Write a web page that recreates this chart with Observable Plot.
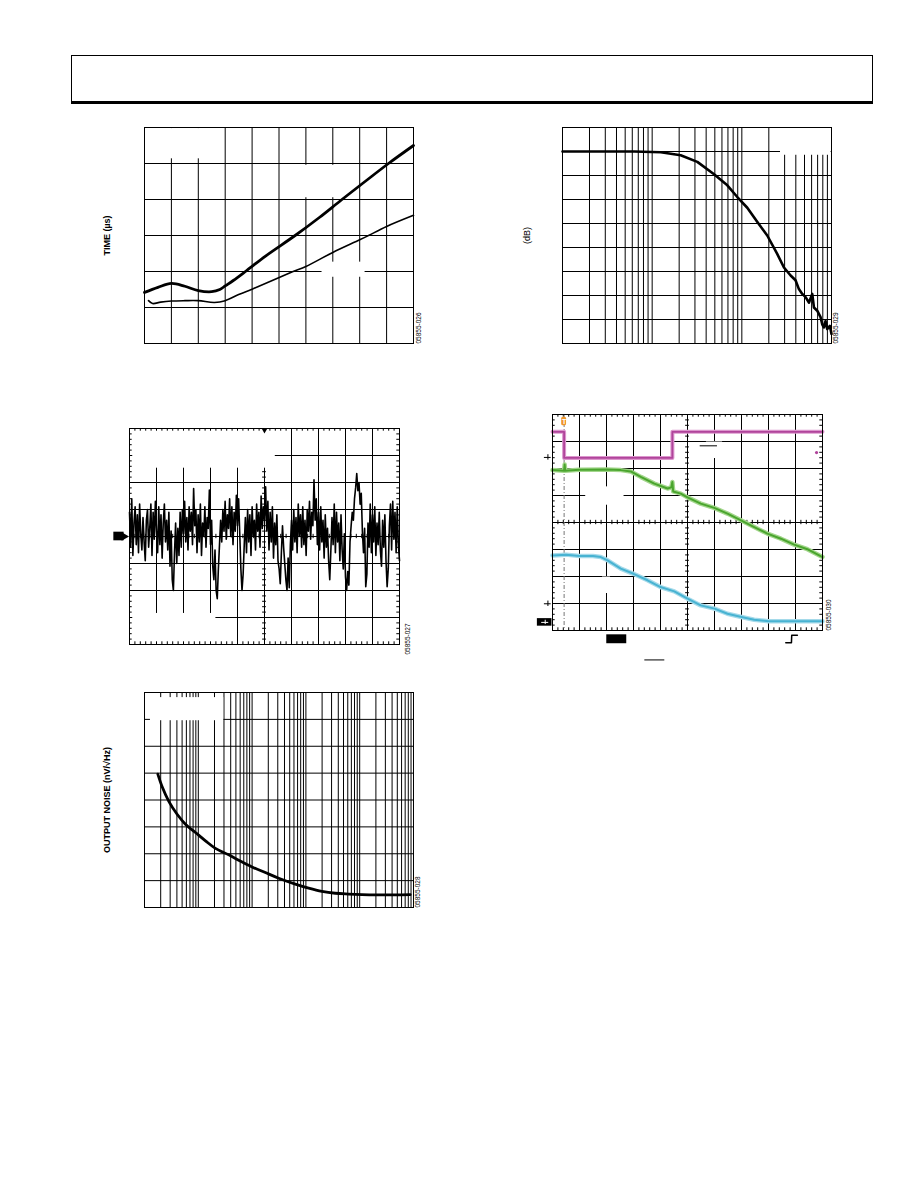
<!DOCTYPE html>
<html><head><meta charset="utf-8">
<script src="https://cdn.jsdelivr.net/npm/d3@7"></script>
<script src="https://cdn.jsdelivr.net/npm/@observablehq/plot@0.6"></script>
<style>
body{margin:0;background:#fff;}
#page{position:relative;width:918px;height:1188px;background:#fff;font-family:Arial,"Liberation Sans",sans-serif;overflow:hidden;}
#header{position:absolute;left:71px;top:55px;width:800px;height:45px;border:1px solid #000;border-bottom:3px solid #000;}
</style></head><body><div id="page"><div id="header"></div></div>
<script>
// ---------- Chart 1: TIME (µs), 10 x 6 divisions ----------
const c1GridX = [0,1,2,3,4,5,6,7,8,9,10];
const c1GridY = [0,1,2,3,4,5,6];
const c1ThickX = [0,0.5,1,1.5,2,2.5,2.8,3,3.3,3.75,4.5,5.6,6.5,7.34,8.2,9.07,10];
const c1ThickY = [1.42,1.56,1.67,1.59,1.47,1.44,1.5,1.6,1.75,2.0,2.43,3.0,3.5,4.0,4.5,5.0,5.5];
const c1ThinX = [0.15,0.3,0.6,1,1.5,2,2.6,3,3.5,4,5.5,6,7,8,8.33,9,10];
const c1ThinY = [1.19,1.11,1.15,1.18,1.19,1.19,1.14,1.19,1.36,1.51,1.99,2.14,2.53,2.88,3.0,3.25,3.56];
const c1Masks = [
  {x1:0.05,x2:2.95,y1:5.13,y2:5.97},
  {x1:5.8,x2:7.4,y1:4.05,y2:4.95},
  {x1:6.6,x2:8.2,y1:1.84,y2:2.26}
];
const c1Label = "TIME (µs)";
const c1Code = "05855-026";

// ---------- Chart 2: (dB) vs log frequency ----------
const c2Decades = [1e3,1e4,1e5];
const c2Mult = [1,2,3,4,5,6,7,8,9];
const c2GridY = [3,0,-3,-6,-9,-12,-15,-18,-21,-24];
const c2Freq = [1000,6280,12500,20800,31900,49000,68900,89000,115000,149000,192000,248000,295000,350000,397000,433000,472000,514000,560000,610000,637000,693000,755000,788000,822000,858000,895000,959000,1000000];
const c2Gain = [0,0,-0.09,-0.47,-1.3,-2.85,-4.23,-5.69,-7.03,-8.82,-10.5,-12.8,-14.5,-15.5,-16.1,-17.2,-17.8,-18.2,-18.9,-17.8,-19.5,-19.9,-20.7,-21.6,-22.0,-21.2,-22.2,-21.8,-22.8];
const c2Masks = [{x1:270000,x2:990000,y1:-0.47,y2:2.95}];
const c2Label = "(dB)";
const c2Code = "05855-029";

// ---------- Chart 3: noise scope, 10 x 8 divisions ----------
const c3GridX = [0,1,2,3,4,5,6,7,8,9,10];
const c3GridY = [-4,-3,-2,-1,0,1,2,3,4];
const c3Noise = [
0.9,-0.4,1.4,-0.7,0.5,1.1,-0.3,0.8,-0.6,1.2,0.1,-0.5,
0.7,-0.2,-0.9,0.6,1.0,-0.4,0.3,1.2,-0.7,0.9,-0.1,1.3,
0.2,-0.6,1.1,-0.3,0.8,-0.8,0.5,1.2,-0.2,0.6,-0.5,0.9,
-1.1,0.2,-1.6,-2.0,-0.6,0.5,-1.0,0.3,-0.7,0.9,-0.4,1.0,
0.1,1.3,-0.2,0.7,-0.5,1.1,0.2,0.9,-0.3,1.78,0.4,1.0,
-0.6,0.8,-0.2,1.2,-0.7,0.5,0.0,1.1,-0.4,0.7,0.3,1.72,
-0.3,0.6,-1.1,-1.6,-0.5,-2.0,-2.3,-1.2,-0.3,0.6,-0.2,1.0,
0.2,1.3,-0.1,0.8,0.3,1.4,0.0,1.1,-0.3,0.9,0.2,1.53,
0.4,1.4,0.1,-1.2,-2.0,-1.4,-0.3,0.7,-0.6,1.0,-0.2,0.8,
-0.7,1.1,0.0,0.6,-0.5,1.2,0.2,0.9,-0.4,1.5,0.3,1.1,
0.6,1.84,0.2,1.3,-0.5,0.9,-0.2,1.1,-0.8,0.5,-0.3,0.8,
-0.9,-1.2,-1.75,-0.6,0.4,-0.4,-1.0,-1.6,-2.0,-0.8,-1.9,-0.3,
0.6,-0.5,1.0,-0.2,0.7,-0.6,1.2,0.0,0.8,-0.4,1.1,-0.3,
0.6,-0.7,1.0,0.2,1.3,-0.1,0.9,0.4,2.1,0.6,1.4,-0.3,
0.9,-0.5,1.1,-0.2,0.6,-0.8,0.8,-0.4,0.3,-0.9,-1.6,-0.5,
0.7,-0.3,1.2,-0.6,0.9,-0.2,0.5,-0.9,0.8,-0.5,-1.2,0.1,
-1.5,-2.0,-1.3,-1.8,-0.2,0.4,0.9,0.6,1.4,1.8,2.33,1.7,
2.0,1.2,1.6,0.2,-0.6,0.3,-1.86,-1.4,0.5,-0.4,1.2,-0.6,
0.8,-0.2,1.1,-0.7,0.5,-0.3,0.9,-0.5,-1.1,0.6,-0.4,0.8,
-0.9,-1.86,-1.2,0.4,1.2,-0.5,1.3,-0.1,0.9,-0.6,1.1,-0.3,
-0.9];
const c3Masks = [
  {x1:0.12,x2:5.4,y1:2.53,y2:3.9},
  {x1:0.12,x2:3.2,y1:-3.9,y2:-2.85}
];
const c3Code = "05855-027";

// ---------- Chart 4: colour scope, 10 x 8 divisions ----------
const c4GridX = [0,1,2,3,4,5,6,7,8,9,10];
const c4GridY = [0,1,2,3,4,5,6,7,8];
const c4PinkX = [0,0.43,0.43,4.44,4.44,10];
const c4PinkY = [7.36,7.36,6.39,6.39,7.36,7.36];
const c4GreenX = [0,0.43,0.45,0.47,1,2,2.53,2.9,3.27,3.77,4.26,4.40,4.44,4.47,4.75,5,5.49,5.99,6.48,6.98,7.47,7.96,8.46,8.95,9.44,10];
const c4GreenY = [5.94,5.92,6.15,5.92,5.95,5.96,5.94,5.89,5.69,5.44,5.26,5.30,5.50,5.15,5.07,4.93,4.70,4.54,4.33,4.08,3.83,3.59,3.40,3.18,3.01,2.72];
const c4CyanX = [0,0.5,1,1.5,1.79,2.04,2.53,3,3.52,4,4.51,5,5.49,6,6.48,7,7.47,8,8.7,9.44,10];
const c4CyanY = [2.78,2.81,2.76,2.76,2.72,2.60,2.29,2.10,1.86,1.61,1.45,1.18,0.93,0.81,0.62,0.50,0.40,0.34,0.34,0.34,0.34];
const c4Trigger = 0.43;
const c4Masks = [
  {x1:1.23,x2:2.65,y1:4.64,y2:5.32},
  {x1:1.85,x2:2.15,y1:1.37,y2:1.98},
  {x1:5.7,x2:6.3,y1:6.37,y2:6.98}
];
const c4Code = "05855-030";

// ---------- Chart 5: OUTPUT NOISE vs log frequency ----------
const c5Decades = [10,100,1000,10000,100000];
const c5GridY = [0,10,20,30,40,50,60,70,80];
const c5Freq = [17.7,21.3,28.3,40.4,57.7,88.5,136,208,368,564,998,1762,3119,6353,11246,19860,35160,62090,109900,223900,457100,866970];
const c5Noise = [49.6,44.9,39.5,34.7,31.0,27.9,24.8,22.0,19.6,17.6,15.1,13.0,10.9,8.7,7.2,6.0,5.3,5.0,4.8,4.7,4.7,4.8];
const c5Masks = [{x1:12.9,x2:297,y1:69.5,y2:78.1}];
const c5Label = "OUTPUT NOISE (nV/√Hz)";
const c5Code = "05855-028";

// ---------- helpers ----------
const page = document.getElementById("page");
const FONT = "Arial, 'Liberation Sans', sans-serif";
function zip(xs, ys){ return xs.map((x,i)=>({x, y:ys[i]})); }
function mk(cfg, opts){
  const [fx0,fy0,fx1,fy1] = cfg.frame;
  const p = Plot.plot({
    width: cfg.W, height: cfg.H,
    marginLeft: fx0-cfg.left, marginRight: cfg.left+cfg.W-fx1,
    marginTop: fy0-cfg.top, marginBottom: cfg.top+cfg.H-fy1,
    style: {background:"transparent", overflow:"visible", fontFamily: FONT},
    ...opts
  });
  p.style.position = "absolute";
  p.style.left = cfg.left + "px";
  p.style.top = cfg.top + "px";
  page.appendChild(p);
}
function logTicks(decades, last){
  const t = [];
  decades.forEach(d => c2Mult.forEach(m => t.push(d*m)));
  t.push(last);
  return t;
}
const grid = {stroke:"#000", strokeWidth:1};
const mask = {x1:"x1", x2:"x2", y1:"y1", y2:"y2", fill:"#fff"};
const minor = [];
for (let v = 0; v <= 10.001; v += 0.2) if (Math.abs(v - Math.round(v)) > 0.01) minor.push(+v.toFixed(1));
const minorY8 = minor.filter(v => v < 8);
const axisLabel = (t, dx, bold) => Plot.text([t], {text:d=>d, frameAnchor:"left", textAnchor:"middle", dx, rotate:-90, fontSize:9, fontWeight: bold ? "bold" : "normal", fill:"#000"});
const codeLabel = (t, dx, dy) => Plot.text([t], {text:d=>d, frameAnchor:"bottom-right", dx, dy, rotate:-90, textAnchor:"start", fontSize:6.5, fill:"#000"});

// ---------- Chart 1 ----------
mk({left:90, top:110, W:345, H:250, frame:[144,127,413,343]}, {
  x:{domain:[0,10], axis:null}, y:{domain:[0,6], axis:null},
  marks:[
    Plot.ruleX(c1GridX, grid), Plot.ruleY(c1GridY, grid),
    Plot.rect(c1Masks, mask),
    Plot.line(zip(c1ThinX, c1ThinY), {x:"x", y:"y", stroke:"#000", strokeWidth:1.6, curve:"catmull-rom"}),
    Plot.line(zip(c1ThickX, c1ThickY), {x:"x", y:"y", stroke:"#000", strokeWidth:2.8, curve:"catmull-rom"}),
    Plot.frame({stroke:"#000"}),
    axisLabel(c1Label, -37, true),
    codeLabel(c1Code, 7, 0)
  ]
});

// ---------- Chart 2 ----------
mk({left:505, top:110, W:345, H:250, frame:[562,127,831,343]}, {
  x:{type:"log", domain:[1e3,1e6], axis:null}, y:{domain:[-24,3], axis:null},
  marks:[
    Plot.ruleX(logTicks(c2Decades, 1e6), grid), Plot.ruleY(c2GridY, grid),
    Plot.rect(c2Masks, mask),
    Plot.line(zip(c2Freq, c2Gain), {x:"x", y:"y", stroke:"#000", strokeWidth:2.6}),
    Plot.frame({stroke:"#000"}),
    axisLabel(c2Label, -35, false),
    codeLabel(c2Code, 6, 0)
  ]
});

// ---------- Chart 3 ----------
const c3Data = c3Noise.map((v,i)=>({x:i*10/(c3Noise.length-1), y:v}));
mk({left:90, top:415, W:345, H:250, frame:[129,428,399,644]}, {
  x:{domain:[0,10], axis:null}, y:{domain:[-4,4], axis:null},
  marks:[
    Plot.ruleX(c3GridX, grid), Plot.ruleY(c3GridY, grid),
    Plot.ruleX(minor, {y1:-0.08, y2:0.08, stroke:"#000"}),
    Plot.ruleY(minorY8.map(v=>v-4), {x1:4.93, x2:5.07, stroke:"#000"}),
    Plot.rect(c3Masks, mask),
    Plot.ruleX(minor, {y1:4, y2:3.9, stroke:"#000"}),
    Plot.ruleX(minor, {y1:-4, y2:-3.9, stroke:"#000"}),
    Plot.ruleY(minorY8.map(v=>v-4), {x1:0, x2:0.1, stroke:"#000"}),
    Plot.ruleY(minorY8.map(v=>v-4), {x1:10, x2:9.9, stroke:"#000"}),
    Plot.line(c3Data, {x:"x", y:"y", stroke:"#000", strokeWidth:1.6}),
    Plot.rect([{x1:-0.58, x2:-0.2, y1:-0.16, y2:0.16}], {x1:"x1", x2:"x2", y1:"y1", y2:"y2", fill:"#000"}),
    Plot.dot([{x:-0.2, y:0}], {x:"x", y:"y", symbol:"triangle", rotate:90, r:3.2, fill:"#000"}),
    Plot.dot([{x:5, y:3.93}], {x:"x", y:"y", symbol:"triangle", rotate:180, r:2, fill:"#000"}),
    Plot.frame({stroke:"#000"}),
    codeLabel(c3Code, 10, 10)
  ]
});

// ---------- Chart 4 ----------
const pinkC = "#b0449b", pinkH = "#dc96cd";
const greenC = "#4aa52e", greenH = "#a3d68c";
const cyanC = "#48b3d2", cyanH = "#a5daea";
mk({left:520, top:400, W:330, H:275, frame:[552,414,822,630]}, {
  x:{domain:[0,10], axis:null}, y:{domain:[0,8], axis:null},
  marks:[
    Plot.ruleX(c4GridX, grid), Plot.ruleY(c4GridY, grid),
    Plot.ruleX(minor, {y1:3.92, y2:4.08, stroke:"#000"}),
    Plot.ruleY(minorY8, {x1:4.93, x2:5.07, stroke:"#000"}),
    Plot.rect(c4Masks, mask),
    Plot.ruleX(minor, {y1:8, y2:7.9, stroke:"#000"}),
    Plot.ruleX(minor, {y1:0, y2:0.1, stroke:"#000"}),
    Plot.ruleY(minorY8, {x1:0, x2:0.1, stroke:"#000"}),
    Plot.ruleY(minorY8, {x1:10, x2:9.9, stroke:"#000"}),
    Plot.ruleX([c4Trigger], {stroke:"#777", strokeWidth:1, strokeDasharray:"4,2,1,2"}),
    Plot.line(zip(c4PinkX, c4PinkY), {x:"x", y:"y", stroke:pinkH, strokeWidth:4}),
    Plot.line(zip(c4PinkX, c4PinkY), {x:"x", y:"y", stroke:pinkC, strokeWidth:1.8}),
    Plot.line(zip(c4GreenX, c4GreenY), {x:"x", y:"y", stroke:greenH, strokeWidth:4.5}),
    Plot.line(zip(c4GreenX, c4GreenY), {x:"x", y:"y", stroke:greenC, strokeWidth:2}),
    Plot.line(zip(c4CyanX, c4CyanY), {x:"x", y:"y", stroke:cyanH, strokeWidth:4.5}),
    Plot.line(zip(c4CyanX, c4CyanY), {x:"x", y:"y", stroke:cyanC, strokeWidth:2}),
    Plot.frame({stroke:"#000"}),
    Plot.rect([{x1:0.34, x2:0.52, y1:7.58, y2:7.9}], {x1:"x1", x2:"x2", y1:"y1", y2:"y2", fill:"#f0972a", rx:1.5}),
    Plot.text(["T"], {text:d=>d, x:()=>0.43, y:()=>7.74, fill:"#fff", fontSize:7, fontWeight:"bold"}),
    Plot.dot([{x:9.78, y:6.59}], {x:"x", y:"y", r:1.6, fill:pinkC}),
    Plot.ruleY([6.41, 0.99], {x1:-0.3, x2:-0.05, stroke:"#000"}),
    Plot.ruleX([-0.17], {y1:6.31, y2:6.51, stroke:"#000"}),
    Plot.ruleX([-0.17], {y1:0.89, y2:1.09, stroke:"#000"}),
    Plot.rect([{x1:-0.56, x2:-0.02, y1:0.16, y2:0.44}], {x1:"x1", x2:"x2", y1:"y1", y2:"y2", fill:"#000"}),
    Plot.ruleY([0.30], {x1:-0.4, x2:-0.14, stroke:"#fff"}),
    Plot.ruleX([-0.27], {y1:0.22, y2:0.38, stroke:"#fff"}),
    Plot.rect([{x1:2.01, x2:2.75, y1:-0.49, y2:-0.16}], {x1:"x1", x2:"x2", y1:"y1", y2:"y2", fill:"#000"}),
    Plot.line([{x:8.64,y:-0.45},{x:8.85,y:-0.45},{x:8.86,y:-0.18},{x:9.07,y:-0.18}], {x:"x", y:"y", stroke:"#000"}),
    Plot.ruleY([-1.09], {x1:3.42, x2:4.16, stroke:"#000"}),
    Plot.ruleY([6.84], {x1:5.47, x2:6.11, stroke:"#000"}),
    codeLabel(c4Code, 8, 0)
  ]
});

// ---------- Chart 5 ----------
mk({left:90, top:680, W:345, H:240, frame:[144,692,413,907]}, {
  x:{type:"log", domain:[10,1e6], axis:null}, y:{domain:[0,80], axis:null},
  marks:[
    Plot.ruleX(logTicks(c5Decades, 1e6), grid), Plot.ruleY(c5GridY, grid),
    Plot.rect(c5Masks, mask),
    Plot.line(zip(c5Freq, c5Noise), {x:"x", y:"y", stroke:"#000", strokeWidth:2.8, curve:"catmull-rom"}),
    Plot.frame({stroke:"#000"}),
    axisLabel(c5Label, -37, true),
    codeLabel(c5Code, 6, 0)
  ]
});
</script>
</body></html>
